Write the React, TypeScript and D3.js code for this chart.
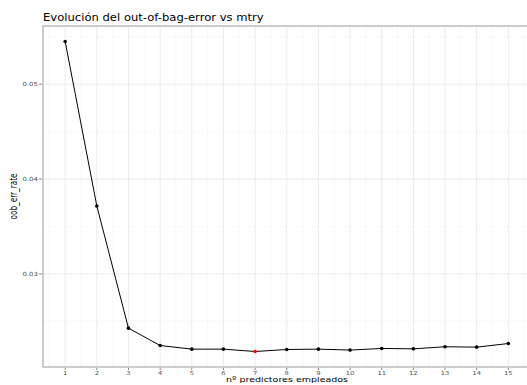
import React from "react";
import * as d3 from "d3";

const mtry = [1, 2, 3, 4, 5, 6, 7, 8, 9, 10, 11, 12, 13, 14, 15];
const oobErr = [0.0545, 0.03716, 0.02428, 0.02245, 0.02207, 0.02207, 0.02182, 0.02203, 0.02207, 0.02197, 0.02214, 0.0221, 0.02232, 0.02228, 0.02266];
const yTicks = [0.03, 0.04, 0.05];
const yMinor = [0.025, 0.035, 0.045, 0.055];
const bestIndex = 6;

const W = 527, H = 385;
const left = 43, top = 26, bottom = 367, right = 530.5;
const SY = 0.8;

export default function App() {
  const xExt = d3.extent(mtry) as [number, number];
  const xPad = (xExt[1] - xExt[0]) * 0.05;
  const x = d3.scaleLinear().domain([xExt[0] - xPad, xExt[1] + xPad]).range([left, right]);
  const yExt = d3.extent(oobErr) as [number, number];
  const yPad = (yExt[1] - yExt[0]) * 0.05;
  const y = d3.scaleLinear().domain([yExt[0] - yPad, yExt[1] + yPad]).range([bottom, top]);
  const xMinor = d3.range(0.5, 16, 1);
  const line = d3.line<number>().x((_, i) => x(mtry[i])).y((d) => y(d));
  const font = "DejaVu Sans, sans-serif";
  return (
    <svg width={W} height={H} style={{ position: "absolute", left: 0, top: 0, background: "#fff" }}>
      <rect x={0} y={0} width={W} height={H} fill="#fff" />
      <g>
        {yMinor.map((v) => (
          <line key={"ym" + v} x1={left} x2={right} y1={y(v)} y2={y(v)} stroke="#f4f4f4" strokeWidth={0.6} />
        ))}
        {xMinor.map((v) => (
          <line key={"xm" + v} x1={x(v)} x2={x(v)} y1={top} y2={bottom} stroke="#f4f4f4" strokeWidth={0.6} />
        ))}
        {yTicks.map((v) => (
          <line key={"yM" + v} x1={left} x2={right} y1={y(v)} y2={y(v)} stroke="#ebebeb" strokeWidth={1} />
        ))}
        {mtry.map((v) => (
          <line key={"xM" + v} x1={x(v)} x2={x(v)} y1={top} y2={bottom} stroke="#ebebeb" strokeWidth={1} />
        ))}
      </g>
      <rect x={left} y={top} width={right - left} height={bottom - top} fill="none" stroke="#9a9a9a" strokeWidth={1} />
      {yTicks.map((v) => (
        <g key={"yt" + v}>
          <line x1={left - 4} x2={left - 1} y1={y(v)} y2={y(v)} stroke="#666" strokeWidth={0.8} />
          <text transform={`translate(${left - 5},${y(v) + 2.2}) scale(1,${SY})`} textAnchor="end" fontSize={7} fill="#4d4d4d" fontFamily={font}>
            {d3.format(".2f")(v)}
          </text>
        </g>
      ))}
      {mtry.map((v) => (
        <g key={"xt" + v}>
          <line x1={x(v)} x2={x(v)} y1={bottom + 1} y2={bottom + 3} stroke="#666" strokeWidth={0.8} />
          <text transform={`translate(${x(v)},${bottom + 7.8}) scale(1,${SY})`} textAnchor="middle" fontSize={6.8} fill="#4d4d4d" fontFamily={font}>
            {v}
          </text>
        </g>
      ))}
      <path d={line(oobErr) || ""} fill="none" stroke="#000" strokeWidth={1} />
      {oobErr.map((v, i) => (
        <circle key={"p" + i} cx={x(mtry[i])} cy={y(v)} r={1.8} fill={i === bestIndex ? "red" : "#000"} />
      ))}
      <text transform={`translate(${left},20.5) scale(1,0.85)`} fontSize={11.6} fill="#000" fontFamily={font}>
        Evolución del out-of-bag-error vs mtry
      </text>
      <text transform={`translate(287,382) scale(1,${SY})`} textAnchor="middle" fontSize={9.5} fill="#000" fontFamily={font}>
        nº predictores empleados
      </text>
      <text transform={`translate(17,${(top + bottom) / 2}) scale(1.05,0.77) rotate(-90)`} textAnchor="middle" fontSize={9.5} fill="#000" fontFamily={font}>
        oob_err_rate
      </text>
    </svg>
  );
}
